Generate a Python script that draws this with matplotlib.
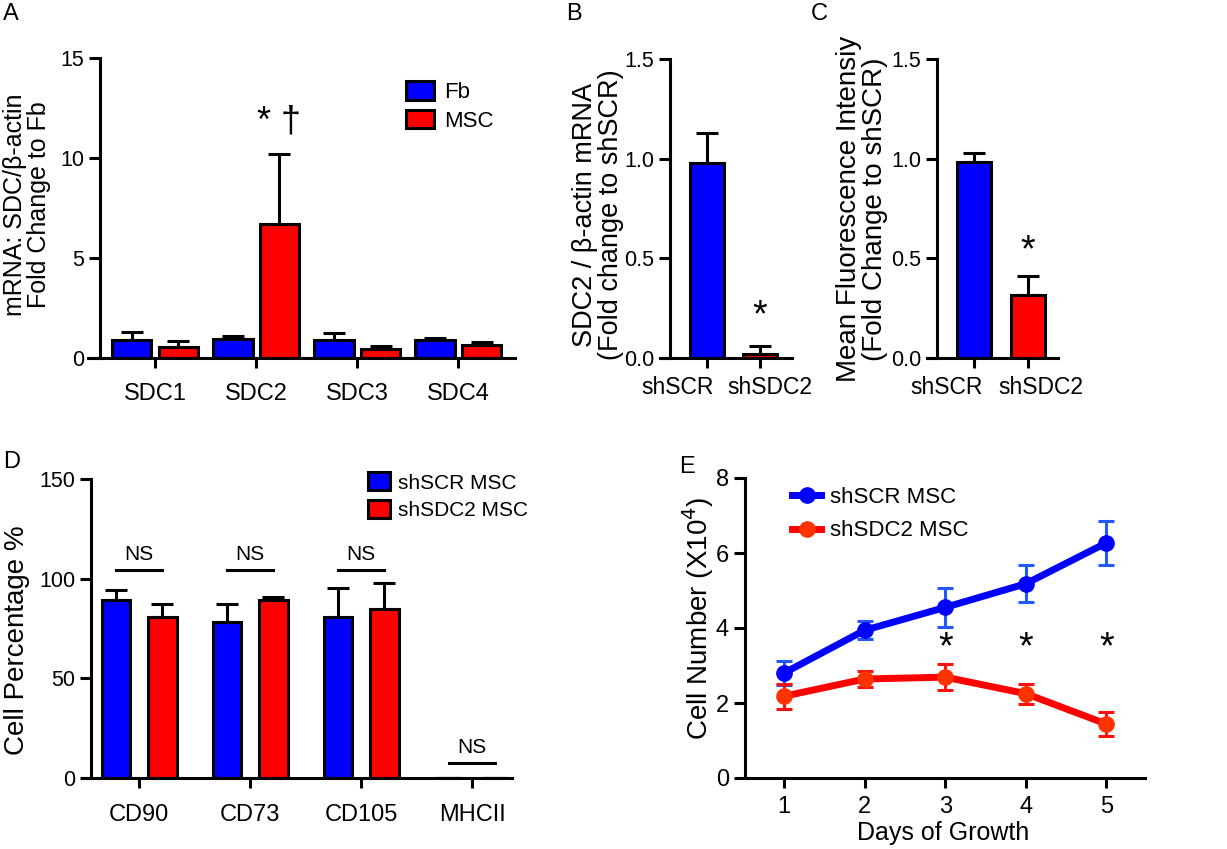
import matplotlib
matplotlib.use("Agg")
import matplotlib.pyplot as plt
import numpy as np

plt.rcParams['font.family'] = ['Liberation Sans', 'DejaVu Sans']
plt.rcParams['axes.linewidth'] = 2.2
plt.rcParams['xtick.major.width'] = 2.2
plt.rcParams['ytick.major.width'] = 2.2
plt.rcParams['xtick.major.size'] = 7
plt.rcParams['ytick.major.size'] = 8
plt.rcParams['xtick.labelsize'] = 17
plt.rcParams['ytick.labelsize'] = 15.5

W, H = 1227, 849
BLUE = '#0000ff'
RED = '#ff0000'

# ---- data ----
# A
a_genes = ['SDC1', 'SDC2', 'SDC3', 'SDC4']
a_fb = [0.88, 0.97, 0.88, 0.88]
a_fb_err = [0.42, 0.13, 0.39, 0.14]
a_msc = [0.55, 6.72, 0.47, 0.63]
a_msc_err = [0.28, 3.46, 0.13, 0.17]
# B
b_groups = ['shSCR', 'shSDC2']
b_vals = [0.98, 0.022]
b_err = [0.15, 0.04]
# C
c_groups = ['shSCR', 'shSDC2']
c_vals = [0.985, 0.317]
c_err = [0.045, 0.096]
# D
d_markers = ['CD90', 'CD73', 'CD105', 'MHCII']
d_scr = [89.2, 78.3, 80.8, 0.0]
d_scr_err = [5.0, 8.9, 14.5, 0.0]
d_sdc2 = [80.8, 89.2, 85.0, 0.0]
d_sdc2_err = [6.7, 1.6, 13.0, 0.0]
d_ns_y = [104.2, 104.2, 104.2, 7.5]
# E
e_days = [1, 2, 3, 4, 5]
e_scr = [2.8, 3.94, 4.55, 5.18, 6.27]
e_scr_err = [0.32, 0.24, 0.51, 0.49, 0.58]
e_sdc2 = [2.18, 2.64, 2.69, 2.25, 1.44]
e_sdc2_err = [0.33, 0.22, 0.34, 0.27, 0.31]
e_star_days = [3, 4, 5]


def make_ax(fig, x0, x1, y0, y1, spine_x):
    ax = fig.add_axes([x0 / W, 1 - y1 / H, (x1 - x0) / W, (y1 - y0) / H])
    ax.spines['top'].set_visible(False)
    ax.spines['right'].set_visible(False)
    ax.spines['left'].set_position(('axes', (spine_x - x0) / (x1 - x0)))
    return ax


def up_err(ax, x, y, e, cap=8):
    ax.errorbar(x, y, yerr=[np.zeros(len(e)), e], fmt='none', ecolor='k',
                elinewidth=2.2, capsize=cap, capthick=2.2, zorder=1)


fig = plt.figure(figsize=(W / 100, H / 100), dpi=100)

# ---- panel A ----
ax = make_ax(fig, 88, 515, 58, 358, 100)
x = np.arange(len(a_genes))
bw, off = 0.39, 0.23
up_err(ax, x - off, a_fb, a_fb_err)
up_err(ax, x + off, a_msc, a_msc_err)
ax.bar(x - off, a_fb, bw, color=BLUE, edgecolor='k', linewidth=2.2, label='Fb', zorder=2)
ax.bar(x + off, a_msc, bw, color=RED, edgecolor='k', linewidth=2.2, label='MSC', zorder=2)
ax.set_xlim(-0.663, 3.56)
ax.set_ylim(0, 15)
ax.spines['left'].set_bounds(0, 15)
ax.set_yticks([0, 5, 10, 15])
ax.set_xticks(x)
ax.set_xticklabels(a_genes)
ax.tick_params(axis='x', pad=11)
ax.text(1 + off, 11.8, '* †', ha='center', va='center', fontsize=26)
ax.legend(loc='upper left', bbox_to_anchor=(395 / W, 1 - 70 / H), bbox_transform=fig.transFigure,
          frameon=False, fontsize=16, borderpad=0, handlelength=1.25, handleheight=0.9,
          handletextpad=0.45, labelspacing=0.3)
fig.text(27 / W, 1 - 205 / H, 'mRNA: SDC/β-actin\nFold Change to Fb', rotation=90,
         ha='center', va='center', fontsize=18, linespacing=1.0)

# ---- panel B ----
ax = make_ax(fig, 660, 792, 59, 358, 670)
x = np.arange(2)
up_err(ax, x, b_vals, b_err)
ax.bar(x, b_vals, 0.64, color=[BLUE, RED], edgecolor='k', linewidth=2.2, zorder=2)
ax.set_xlim(-0.887, 1.604)
ax.set_ylim(0, 1.5)
ax.spines['left'].set_bounds(0, 1.5)
ax.set_yticks([0, 0.5, 1.0, 1.5])
ax.set_yticklabels(['0.0', '0.5', '1.0', '1.5'])
ax.set_xticks(x)
ax.set_xticklabels([])
for lab, px in zip(b_groups, [678, 770]):
    fig.text(px / W, 1 - 388 / H, lab, ha='center', va='center', fontsize=16.5)
ax.text(1, 0.21, '*', ha='center', va='center', fontsize=27)
fig.text(598 / W, 1 - 215 / H, 'SDC2 / β-actin mRNA\n(Fold change to shSCR)', rotation=90,
         ha='center', va='center', fontsize=19.5, linespacing=0.95)

# ---- panel C ----
ax = make_ax(fig, 927, 1058, 59, 358, 937)
up_err(ax, x, c_vals, c_err)
ax.bar(x, c_vals, 0.63, color=[BLUE, RED], edgecolor='k', linewidth=2.2, zorder=2)
ax.set_xlim(-0.87, 1.556)
ax.set_ylim(0, 1.5)
ax.spines['left'].set_bounds(0, 1.5)
ax.set_yticks([0, 0.5, 1.0, 1.5])
ax.set_yticklabels(['0.0', '0.5', '1.0', '1.5'])
ax.set_xticks(x)
ax.set_xticklabels([])
for lab, px in zip(c_groups, [947, 1041]):
    fig.text(px / W, 1 - 388 / H, lab, ha='center', va='center', fontsize=16.5)
ax.text(1, 0.535, '*', ha='center', va='center', fontsize=27)
fig.text(862 / W, 1 - 209 / H, 'Mean Fluorescence Intensiy\n(Fold Change to shSCR)', rotation=90,
         ha='center', va='center', fontsize=20, linespacing=0.95)

# ---- panel D ----
ax = make_ax(fig, 82, 512, 479, 778, 91)
x = np.arange(len(d_markers))
bw, off = 0.255, 0.21
up_err(ax, x - off, d_scr, d_scr_err)
up_err(ax, x + off, d_sdc2, d_sdc2_err)
ax.bar(x - off, d_scr, bw, color=BLUE, edgecolor='k', linewidth=2.2, label='shSCR MSC', zorder=2)
ax.bar(x + off, d_sdc2, bw, color=RED, edgecolor='k', linewidth=2.2, label='shSDC2 MSC', zorder=2)
for xi, ny in zip(x, d_ns_y):
    ax.plot([xi - off, xi + off], [ny, ny], color='k', lw=2.2)
    ax.text(xi, ny + 3.0, 'NS', ha='center', va='bottom', fontsize=15)
ax.set_xlim(-0.514, 3.36)
ax.set_ylim(0, 150)
ax.spines['left'].set_bounds(0, 150)
ax.set_yticks([0, 50, 100, 150])
ax.set_xticks(x)
ax.set_xticklabels(d_markers)
ax.tick_params(axis='x', pad=12)
ax.legend(loc='upper left', bbox_to_anchor=(358 / W, 1 - 462 / H), bbox_transform=fig.transFigure,
          frameon=False, fontsize=15, borderpad=0, handlelength=1.05, handleheight=0.95,
          handletextpad=0.35, labelspacing=0.35)
fig.text(17 / W, 1 - 640 / H, 'Cell Percentage %', rotation=90,
         ha='center', va='center', fontsize=20)

# ---- panel E ----
ax = make_ax(fig, 740, 1145, 478, 778, 745)
ax.errorbar(e_days, e_scr, yerr=e_scr_err, fmt='none', ecolor='#2259ff',
            elinewidth=2.2, capsize=6, capthick=2.2, zorder=1)
ax.errorbar(e_days, e_sdc2, yerr=e_sdc2_err, fmt='none', ecolor='#ff1010',
            elinewidth=2.2, capsize=6, capthick=2.2, zorder=1)
ax.plot(e_days, e_scr, '-o', color=BLUE, lw=5, ms=11, label='shSCR MSC', zorder=3)
ax.plot(e_days, e_sdc2, '-o', color=RED, mfc='#ff3300', mec='#ff3300', lw=5, ms=11,
        label='shSDC2 MSC', zorder=3)
for d in e_star_days:
    ax.text(d, 3.45, '*', ha='center', va='center', fontsize=27)
ax.set_xlim(0.453, 5.48)
ax.set_ylim(0, 8)
ax.spines['left'].set_bounds(0, 8)
ax.set_yticks([0, 2, 4, 6, 8])
ax.set_xticks(e_days)
ax.tick_params(axis='x', pad=6)
ax.tick_params(labelsize=17)
ax.legend(loc='upper left', bbox_to_anchor=(781 / W, 1 - 476 / H), bbox_transform=fig.transFigure,
          frameon=False, fontsize=16, borderpad=0, handlelength=1.3,
          handletextpad=0.4, labelspacing=0.55)
fig.text(698 / W, 1 - 618 / H, 'Cell Number (X10$^{4}$)', rotation=90,
         ha='center', va='center', fontsize=20)
fig.text(943 / W, 1 - 833 / H, 'Days of Growth', ha='center', va='center', fontsize=18)

# panel letters
for lab, px, py in [('A', 3, 3), ('B', 566, 3), ('C', 811, 3), ('D', 3, 451), ('E', 679, 456)]:
    fig.text(px / W, 1 - py / H, lab, ha='left', va='top', fontsize=17)

fig.savefig('out.png', dpi=100)
